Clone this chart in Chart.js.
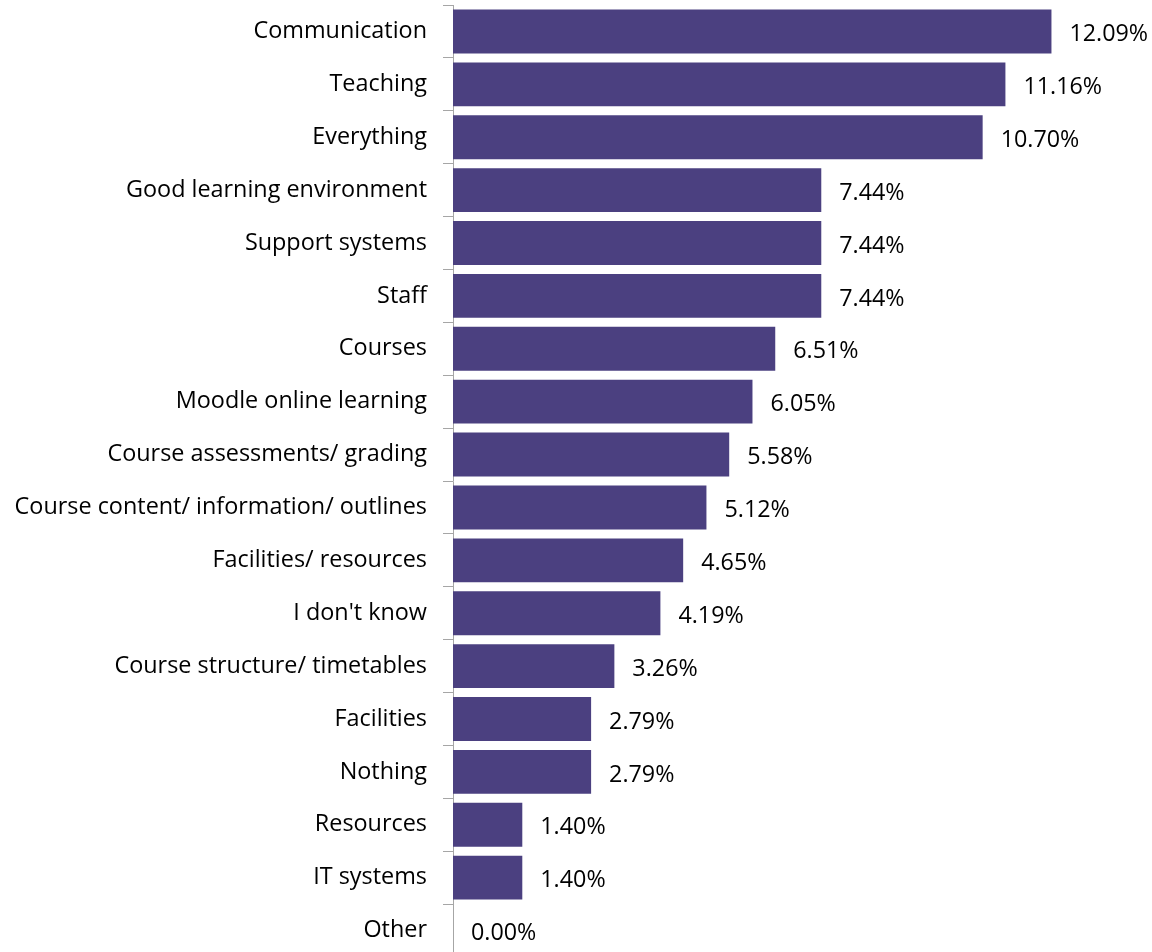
<!DOCTYPE html>
<html><head><meta charset="utf-8">
<script src="https://cdn.jsdelivr.net/npm/chart.js@4"></script>
<style>html,body{margin:0;padding:0;overflow:hidden;background:#fff}#wrap{width:1152px;height:957px;position:relative}</style>
</head><body><div id="wrap"><canvas id="c"></canvas></div>
<script>
const categories = ["Communication","Teaching","Everything","Good learning environment","Support systems","Staff","Courses","Moodle online learning","Course assessments/ grading","Course content/ information/ outlines","Facilities/ resources","I don't know","Course structure/ timetables","Facilities","Nothing","Resources","IT systems","Other"];
const values = [12.09,11.16,10.70,7.44,7.44,7.44,6.51,6.05,5.58,5.12,4.65,4.19,3.26,2.79,2.79,1.40,1.40,0.00];
const FONT = "'Open Sans', 'Liberation Sans', sans-serif";
const labelPlugin = {
  id:'vlabels',
  afterDatasetsDraw(chart){
    const ctx=chart.ctx; const meta=chart.getDatasetMeta(0);
    ctx.save(); ctx.fillStyle='#000'; ctx.font='23.3px '+FONT; ctx.textBaseline='middle'; ctx.textAlign='left';
    meta.data.forEach((el,i)=>{ ctx.fillText(values[i].toFixed(2)+'%', el.x+18, el.y+3); });
    ctx.restore();
  }
};
new Chart(document.getElementById('c'),{
  type:'bar',
  data:{labels:categories,datasets:[{data:values,backgroundColor:'#4B4080',borderWidth:0,barPercentage:0.83,categoryPercentage:1}]},
  options:{indexAxis:'y',responsive:true,maintainAspectRatio:false,animation:false,
    layout:{padding:{top:5,right:6,bottom:0,left:0}},
    plugins:{legend:{display:false},tooltip:{enabled:false}},
    scales:{
      x:{display:false,min:0,max:14},
      y:{afterFit(s){s.width=453;s.paddingTop=0;s.paddingBottom=0;},
         grid:{offset:true,drawOnChartArea:false,tickLength:10,color:'#A6A6A6',lineWidth:1},
         border:{display:true,color:'#A6A6A6',width:1},
         ticks:{color:'#000',font:{size:23.4,family:FONT},padding:16,autoSkip:false}}
    }},
  plugins:[labelPlugin]
});
</script></body></html>
